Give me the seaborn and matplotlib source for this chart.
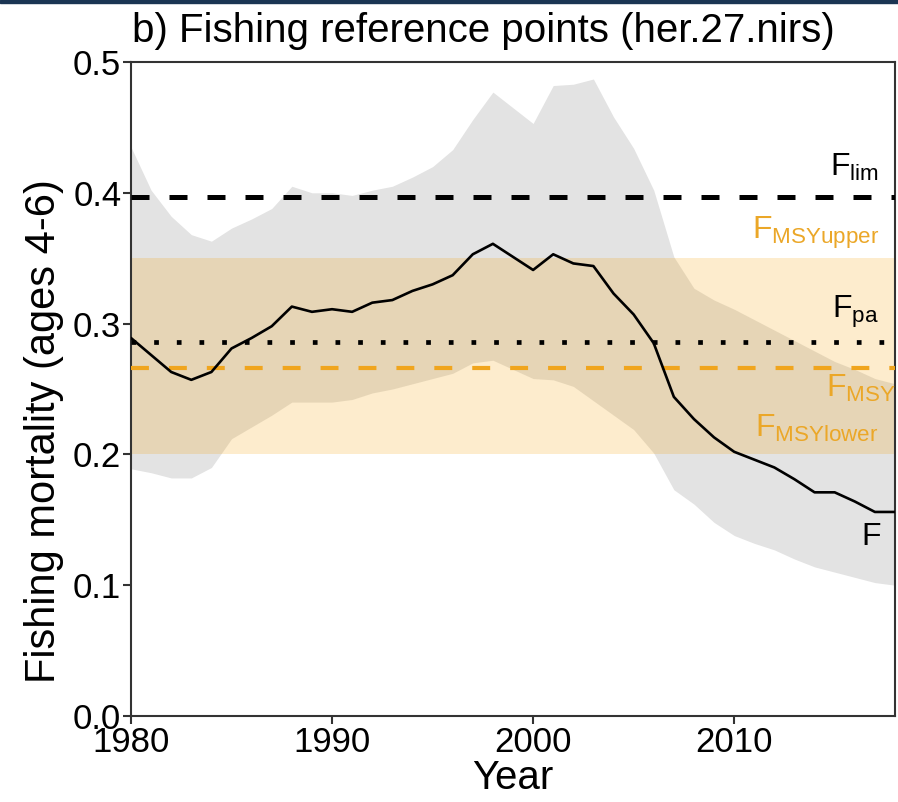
import matplotlib
matplotlib.use("Agg")
import matplotlib.pyplot as plt
import seaborn as sns
import pandas as pd
from matplotlib.patches import Rectangle

sns.set_theme(style="white")
plt.rcParams['font.family'] = ['Liberation Sans', 'DejaVu Sans']
plt.rcParams['mathtext.fontset'] = 'custom'
plt.rcParams['mathtext.rm'] = 'Liberation Sans'
plt.rcParams['mathtext.it'] = 'Liberation Sans'
for k in ['text.color', 'axes.labelcolor', 'xtick.color', 'ytick.color']:
    plt.rcParams[k] = 'black'

# ---- data ----
years = list(range(1980, 2019))
f_values = [0.289, 0.276, 0.263, 0.257, 0.263, 0.281, 0.289, 0.298, 0.313, 0.309,
            0.311, 0.309, 0.316, 0.318, 0.325, 0.330, 0.337, 0.353, 0.361, 0.351,
            0.341, 0.353, 0.346, 0.344, 0.323, 0.307, 0.285, 0.244, 0.227, 0.213,
            0.202, 0.196, 0.190, 0.181, 0.171, 0.171, 0.164, 0.156, 0.156]
f_upper = [0.435, 0.402, 0.382, 0.368, 0.363, 0.373, 0.380, 0.388, 0.405, 0.400,
           0.400, 0.398, 0.402, 0.405, 0.412, 0.420, 0.433, 0.456, 0.477, 0.465,
           0.453, 0.482, 0.483, 0.487, 0.458, 0.434, 0.402, 0.351, 0.327, 0.318,
           0.311, 0.303, 0.295, 0.287, 0.279, 0.271, 0.265, 0.258, 0.254]
f_lower = [0.189, 0.186, 0.182, 0.182, 0.190, 0.212, 0.221, 0.230, 0.240, 0.240,
           0.240, 0.242, 0.247, 0.250, 0.254, 0.258, 0.262, 0.270, 0.272, 0.265,
           0.258, 0.257, 0.252, 0.241, 0.230, 0.219, 0.201, 0.173, 0.162, 0.148,
           0.138, 0.132, 0.127, 0.120, 0.114, 0.110, 0.106, 0.102, 0.100]
F_lim = 0.397
F_pa = 0.286
F_msy = 0.266
F_msy_lower = 0.200
F_msy_upper = 0.350
x_ticks = [1980, 1990, 2000, 2010]
y_ticks = [0.0, 0.1, 0.2, 0.3, 0.4, 0.5]

df = pd.DataFrame({"Year": years, "F": f_values, "lo": f_lower, "hi": f_upper})

orange = "#F0A51E"
orange_txt = "#EBA728"

fig = plt.figure(figsize=(8.98, 8.02), dpi=100)
ax = fig.add_axes([131/898, 1-716/802, (895-131)/898, (716-62)/802])

ax.fill_between(df["Year"], df["lo"], df["hi"], color="#E3E3E3", lw=0, zorder=1)
ax.axhspan(F_msy_lower, F_msy_upper, color="#F5A005", alpha=0.2, lw=0, zorder=2)

ax.axhline(F_lim, color="black", lw=3.6, dashes=(3.6, 4.0), dash_capstyle="butt", zorder=3)
ax.axhline(F_pa, color="black", lw=3.4, dashes=(1.0, 3.8), dash_capstyle="butt", zorder=3)
ax.axhline(F_msy, color=orange, lw=3.0, dashes=(4.3, 4.8), dash_capstyle="butt", zorder=3)

sns.lineplot(data=df, x="Year", y="F", color="black", lw=1.9, ax=ax, zorder=4)

fs_lab = 23
ax.text(2017.2, 0.413, r"F$_{\mathrm{lim}}$", ha="right", va="baseline", fontsize=fs_lab)
ax.text(2017.2, 0.365, r"F$_{\mathrm{MSYupper}}$", ha="right", va="baseline", fontsize=fs_lab, color=orange_txt)
ax.text(2017.2, 0.304, r"F$_{\mathrm{pa}}$", ha="right", va="baseline", fontsize=fs_lab)
ax.text(2018.05, 0.244, r"F$_{\mathrm{MSY}}$", ha="right", va="baseline", fontsize=fs_lab, color=orange_txt)
ax.text(2017.2, 0.213, r"F$_{\mathrm{MSYlower}}$", ha="right", va="baseline", fontsize=fs_lab, color=orange_txt)
ax.text(2017.3, 0.131, "F", ha="right", va="baseline", fontsize=fs_lab)

ax.set_xlim(1980, 2018)
ax.set_ylim(0, 0.5)
ax.set_xticks(x_ticks)
ax.set_yticks(y_ticks)
ax.set_yticklabels([f"{v:.1f}" for v in y_ticks])
ax.tick_params(axis="both", which="major", direction="out", length=6, width=1.5,
               color="#333333", labelsize=25, pad=1, left=True, bottom=True)
for s in ax.spines.values():
    s.set_visible(True)
    s.set_color("#333333")
    s.set_linewidth(1.5)

ax.set_xlabel("Year", fontsize=29, labelpad=0)
ax.set_ylabel("Fishing mortality (ages 4-6)", fontsize=30)
ax.yaxis.set_label_coords(-0.088, 0.436)

fig.text(132/898, 1-42/802, "b) Fishing reference points (her.27.nirs)",
         ha="left", va="baseline", fontsize=29)

fig.patches.append(Rectangle((0, 1-3/802), 1, 3/802, transform=fig.transFigure,
                             color="#1B3553", zorder=10))

fig.savefig("out.png", dpi=100)
